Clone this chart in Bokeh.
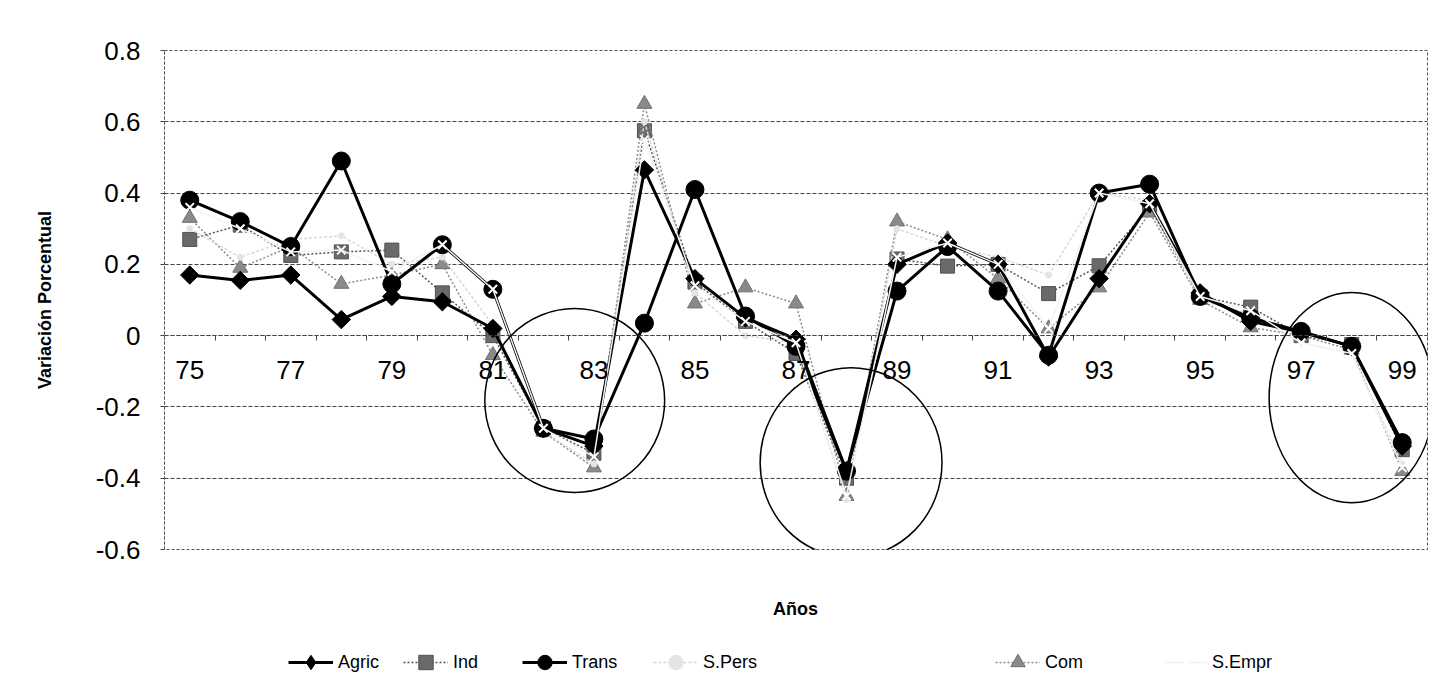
from bokeh.plotting import figure
from bokeh.layouts import column
from bokeh.models import (FixedTicker, CustomJSTickFormatter, Legend, LegendItem,
                          Label, Range1d)
from bokeh.embed import file_html
from bokeh.resources import INLINE

# ---------------- data ----------------
years = list(range(75, 100))
tick_years = [75, 77, 79, 81, 83, 85, 87, 89, 91, 93, 95, 97, 99]
tick_labels = [str(y) for y in tick_years]
y_ticks = [-0.6, -0.4, -0.2, 0, 0.2, 0.4, 0.6, 0.8]

agric = [0.17, 0.155, 0.17, 0.045, 0.11, 0.095, 0.02, -0.26, -0.31, 0.465, 0.16, 0.05,
         -0.01, -0.38, 0.20, 0.26, 0.20, -0.06, 0.16, 0.37, 0.12, 0.04, 0.01, -0.03, -0.31]
ind = [0.27, 0.31, 0.225, 0.235, 0.24, 0.12, 0.0, -0.26, -0.33, 0.575, 0.15, 0.04,
       -0.05, -0.40, 0.215, 0.195, 0.20, 0.118, 0.196, 0.36, 0.11, 0.08, 0.0, -0.025, -0.32]
trans = [0.38, 0.32, 0.25, 0.49, 0.145, 0.255, 0.13, -0.26, -0.29, 0.035, 0.41, 0.055,
         -0.03, -0.38, 0.125, 0.25, 0.125, -0.055, 0.40, 0.425, 0.11, 0.05, 0.012, -0.03, -0.30]
spers = [0.30, 0.22, 0.27, 0.28, 0.20, 0.22, 0.03, -0.27, -0.36, 0.60, 0.12, 0.0,
         -0.02, -0.46, 0.30, 0.25, 0.22, 0.17, 0.40, 0.38, 0.10, 0.06, -0.02, -0.05, -0.36]
com = [0.33, 0.19, 0.25, 0.145, 0.17, 0.20, -0.055, -0.27, -0.37, 0.65, 0.09, 0.135,
       0.09, -0.45, 0.32, 0.27, 0.16, 0.02, 0.135, 0.345, 0.10, 0.023, 0.0, -0.04, -0.38]
sempr = [0.36, 0.30, 0.235, 0.24, 0.18, 0.255, 0.13, -0.26, -0.34, 0.55, 0.14, 0.04,
         -0.02, -0.45, 0.22, 0.26, 0.20, 0.02, 0.40, 0.37, 0.11, 0.07, -0.02, -0.05, -0.37]

# highlighted regions (ellipses drawn on the chart)
ell_x = [82.62, 88.09, 98.0]
ell_y = [-0.182, -0.356, -0.174]
ell_w = [3.56, 3.6, 3.27]
ell_h = [0.516, 0.533, 0.59]

FONT = "Liberation Sans"
W = 1432
LEFT = 164
RIGHT = 5

p = figure(width=W, height=590, output_backend="svg", toolbar_location=None,
           x_range=Range1d(74.5, 99.5), y_range=Range1d(-0.6, 0.8),
           min_border_left=LEFT, min_border_right=RIGHT, min_border_top=50,
           min_border_bottom=41)
p.background_fill_color = "white"
p.outline_line_color = "#555555"
p.outline_line_dash = "3 2"
p.outline_line_width = 1

# grid
p.xgrid.visible = False
p.ygrid.ticker = FixedTicker(ticks=y_ticks)
p.ygrid.grid_line_color = "#444444"
p.ygrid.grid_line_dash = "4 2"
p.ygrid.grid_line_width = 1

# y axis
p.yaxis.ticker = FixedTicker(ticks=y_ticks)
p.yaxis.formatter = CustomJSTickFormatter(
    code="return Math.abs(tick) < 1e-9 ? '0' : tick.toFixed(1);")
p.yaxis.major_label_text_font = FONT
p.yaxis.major_label_text_font_size = "26px"
p.yaxis.major_label_text_color = "black"
p.yaxis.major_tick_out = 4
p.yaxis.major_tick_in = 0
p.yaxis.minor_tick_line_color = None
p.yaxis.major_tick_line_color = "#444444"
p.yaxis.axis_line_color = "#555555"
p.yaxis.axis_line_dash = "3 2"
p.yaxis.major_label_standoff = 20
p.yaxis.axis_label = "Variación Porcentual"
p.yaxis.axis_label_text_font = FONT
p.yaxis.axis_label_text_font_style = "bold"
p.yaxis.axis_label_text_font_size = "18px"
p.yaxis.axis_label_text_color = "black"
p.yaxis.axis_label_standoff = 38

# x axis crossing at zero
p.xaxis.fixed_location = 0
p.xaxis.ticker = FixedTicker(ticks=tick_years,
                             minor_ticks=[y - 0.5 for y in years] + [99.5])
p.xaxis.major_label_overrides = {y: s for y, s in zip(tick_years, tick_labels)}
p.xaxis.major_label_text_font = FONT
p.xaxis.major_label_text_font_size = "26px"
p.xaxis.major_label_text_color = "black"
p.xaxis.major_label_standoff = 19
p.xaxis.major_tick_line_color = None
p.xaxis.minor_tick_line_color = "#444444"
p.xaxis.minor_tick_out = 5
p.xaxis.minor_tick_in = 0
p.xaxis.axis_line_color = "#444444"
p.xaxis.axis_line_dash = "4 2"

# series styles
series = [
    ("Ind", ind, dict(color="#555555", width=1.5, dash="2 2"),
     dict(marker="square", size=14, fill="#6a6a6a", line="#505050", lw=1, angle=0,
          legend_marker="square")),
    ("Com", com, dict(color="#8c8c8c", width=1.5, dash="2 2"),
     dict(marker="triangle", size=15, fill="#8a8a8a", line="#707070", lw=1, angle=0,
          legend_marker="triangle")),
    ("S.Pers", spers, dict(color="#d8d8d8", width=1.5, dash="3 2"),
     dict(marker="circle", size=6, fill="#e4e4e4", line="#e4e4e4", lw=1, angle=0,
          legend_marker="circle")),
    ("Agric", agric, dict(color="black", width=3, dash="solid"),
     dict(marker="square", size=13, fill="black", line="black", lw=1, angle=0.785398,
          legend_marker="diamond")),
    ("Trans", trans, dict(color="black", width=3, dash="solid"),
     dict(marker="circle", size=18, fill="black", line="black", lw=1, angle=0,
          legend_marker="circle")),
    ("S.Empr", sempr, dict(color="#f3f3f3", width=1.5, dash="solid"),
     dict(marker="x", size=12, fill="white", line="white", lw=2, angle=0,
          legend_marker="x")),
]

for name, vals, ls, ms in series:
    p.line(years, vals, line_color=ls["color"], line_width=ls["width"],
           line_dash=ls["dash"])
    p.scatter(years, vals, marker=ms["marker"], size=ms["size"],
              fill_color=ms["fill"], line_color=ms["line"],
              line_width=ms["lw"], angle=ms["angle"])

# ellipses
p.ellipse(x=ell_x, y=ell_y, width=ell_w, height=ell_h, fill_color=None,
          line_color="black", line_width=1.5)

# ---------------- legend / x title strip ----------------
# (the column aligns this strip's frame with the chart's frame, so its
#  x range is expressed in page pixels between the two frame edges)
H2 = 100
q = figure(width=W, height=H2, output_backend="svg", toolbar_location=None,
           x_range=Range1d(LEFT, W - RIGHT), y_range=Range1d(0, H2),
           min_border_left=LEFT, min_border_right=RIGHT, min_border_top=0,
           min_border_bottom=0, x_axis_type=None, y_axis_type=None)
q.grid.visible = False
q.outline_line_color = None

q.add_layout(Label(x=795, y=H2 - 18, text="Años", text_align="center",
                   text_baseline="middle", text_font=FONT, text_color="black",
                   text_font_style="bold", text_font_size="18px"))

legend_order = ["Agric", "Ind", "Trans", "S.Pers", "Com", "S.Empr"]
legend_x = [288, 403, 522, 653, 995, 1162]
style = {name: (ls, ms) for name, vals, ls, ms in series}
for name, lx in zip(legend_order, legend_x):
    ls, ms = style[name]
    # off-screen proxy renderers that only serve to draw the legend glyphs
    lr = q.line([-500, -400], [-50, -50], line_color=ls["color"],
                line_width=ls["width"], line_dash=ls["dash"])
    sr = q.scatter([-500], [-50], marker=ms["legend_marker"], size=ms["size"],
                   fill_color=ms["fill"], line_color=ms["line"],
                   line_width=ms["lw"])
    leg = Legend(items=[LegendItem(label=name, renderers=[lr, sr])],
                 location=(lx - LEFT, 10), orientation="horizontal",
                 glyph_width=45, glyph_height=36, label_height=20,
                 label_standoff=5, padding=0, margin=0, spacing=0,
                 border_line_color=None, background_fill_alpha=0,
                 label_text_font=FONT, label_text_font_size="18px",
                 label_text_color="black")
    q.add_layout(leg)

layout = column(p, q, spacing=0)
open("out.html", "w").write(file_html(layout, INLINE))
